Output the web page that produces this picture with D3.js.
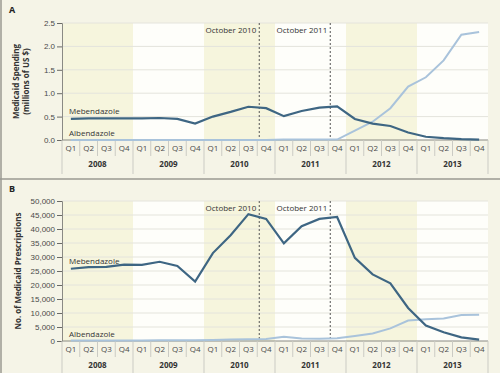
<!DOCTYPE html>
<html>
<head>
<meta charset="utf-8">
<script src="https://cdn.jsdelivr.net/npm/d3@7"></script>
<style>
  body { margin: 0; background: #f5f4e7; }
  svg { display: block; font-family: "Open Sans", sans-serif; }
</style>
</head>
<body>
<svg id="chart" width="500" height="373"></svg>
<script>
const years = ["2008", "2009", "2010", "2011", "2012", "2013"];
const quarters = ["Q1", "Q2", "Q3", "Q4"];
const shadedYears = ["2008", "2010", "2012"];

// Panel A: spending, millions of US $
const spendMeb = [0.45, 0.46, 0.46, 0.46, 0.46, 0.47, 0.45, 0.35,
                  0.50, 0.60, 0.71, 0.68, 0.51, 0.62, 0.69, 0.72,
                  0.45, 0.35, 0.30, 0.16, 0.07, 0.04, 0.02, 0.01];
const spendAlb = [0.0, 0.0, 0.0, 0.0, 0.0, 0.0, 0.0, 0.0,
                  0.0, 0.0, 0.0, 0.0, 0.01, 0.01, 0.01, 0.01,
                  0.20, 0.39, 0.68, 1.14, 1.34, 1.70, 2.25, 2.31];
const spendTicks = [0, 0.5, 1.0, 1.5, 2.0, 2.5];

// Panel B: number of prescriptions
const rxMeb = [25800, 26400, 26500, 27300, 27200, 28300, 26800, 21200,
               31400, 37800, 45300, 43600, 34900, 41000, 43600, 44300,
               29700, 23800, 20600, 11800, 5500, 3100, 1300, 500];
const rxAlb = [200, 200, 200, 200, 200, 300, 300, 300,
               400, 500, 600, 700, 1500, 900, 800, 1000,
               1800, 2700, 4500, 7300, 7800, 8000, 9300, 9400];
const rxTicks = [0, 5000, 10000, 15000, 20000, 25000, 30000, 35000, 40000, 45000, 50000];

const events = [{label: "October 2010", idx: 11}, {label: "October 2011", idx: 15}];

const periods = [];
years.forEach(y => quarters.forEach(q => periods.push(y + q)));

const svg = d3.select("#chart");
const left = 62, right = 488;

const x = d3.scaleBand().domain(periods).range([left, right]);
const xc = p => x(p) + x.bandwidth() / 2;

// panel borders
svg.append("line").attr("x1", 1).attr("x2", 1).attr("y1", 0).attr("y2", 373)
  .attr("stroke", "#9a9a92").attr("stroke-width", 1.5);
svg.append("line").attr("x1", 0).attr("x2", 500).attr("y1", 179).attr("y2", 179)
  .attr("stroke", "#9a9a92").attr("stroke-width", 1.5);

function panel(opts) {
  const g = svg.append("g");
  const y = d3.scaleLinear().domain(opts.domain).range([opts.bottom, opts.top]);

  // plot background
  g.append("rect").attr("x", left).attr("y", opts.top)
    .attr("width", right - left).attr("height", opts.bottom - opts.top)
    .attr("fill", "#fefefa");
  g.selectAll("rect.shade").data(shadedYears).join("rect")
    .attr("class", "shade")
    .attr("x", d => x(d + "Q1"))
    .attr("y", opts.top)
    .attr("width", x.bandwidth() * 4)
    .attr("height", opts.bottom - opts.top)
    .attr("fill", "#f6f5dd");

  // gridlines
  g.selectAll("line.grid").data(opts.ticks.slice(1)).join("line")
    .attr("class", "grid")
    .attr("x1", left).attr("x2", right)
    .attr("y1", d => y(d)).attr("y2", d => y(d))
    .attr("stroke", "#e4e4dc").attr("stroke-width", 1);

  // y axis
  const yAxis = d3.axisLeft(y).tickValues(opts.ticks).tickSize(5).tickPadding(2)
    .tickFormat(opts.format);
  const ya = g.append("g").attr("transform", `translate(${left},0)`).call(yAxis);
  ya.select(".domain").attr("stroke", "#8a8a84");
  ya.selectAll(".tick line").attr("stroke", "#6a6a66");
  ya.selectAll("text").attr("font-size", 8).attr("fill", "#4a4a4a");

  // x axis: quarter cells and year labels
  g.append("line").attr("x1", left).attr("x2", right)
    .attr("y1", opts.bottom).attr("y2", opts.bottom)
    .attr("stroke", "#8a8a84");
  g.selectAll("line.qdiv").data(periods.concat(["end"])).join("line")
    .attr("class", "qdiv")
    .attr("x1", (d, i) => i < periods.length ? x(d) : right)
    .attr("x2", (d, i) => i < periods.length ? x(d) : right)
    .attr("y1", opts.bottom)
    .attr("y2", (d, i) => i % 4 === 0 ? opts.bottom + 34 : opts.bottom + 16)
    .attr("stroke", "#cbcbc4");
  g.selectAll("text.q").data(periods).join("text")
    .attr("class", "q")
    .attr("x", d => xc(d))
    .attr("y", opts.bottom + 11)
    .attr("text-anchor", "middle")
    .attr("font-size", 8).attr("fill", "#4a4a4a")
    .text(d => d.slice(4));
  g.selectAll("text.yr").data(years).join("text")
    .attr("class", "yr")
    .attr("x", d => x(d + "Q1") + x.bandwidth() * 2)
    .attr("y", opts.bottom + 27)
    .attr("text-anchor", "middle")
    .attr("font-size", 8).attr("font-weight", "bold").attr("fill", "#333")
    .text(d => d);

  // event markers
  events.forEach(e => {
    const ex = x(periods[e.idx]) + 2;
    g.append("line").attr("x1", ex).attr("x2", ex)
      .attr("y1", opts.top).attr("y2", opts.bottom)
      .attr("stroke", "#555").attr("stroke-dasharray", "2,2");
    g.append("text").attr("x", ex - 3).attr("y", opts.top + 10)
      .attr("text-anchor", "end").attr("font-size", 8).attr("fill", "#333")
      .text(e.label);
  });

  // lines
  const line = d3.line().x((d, i) => xc(periods[i])).y(d => y(d));
  g.append("path").datum(opts.alb).attr("d", line)
    .attr("fill", "none").attr("stroke", "#a9c3db").attr("stroke-width", 2);
  g.append("path").datum(opts.meb).attr("d", line)
    .attr("fill", "none").attr("stroke", "#3e6683").attr("stroke-width", 2.2);

  g.append("text").attr("x", left + 7).attr("y", y(opts.meb[0]) - 5)
    .attr("font-size", 8).attr("fill", "#333").text("Mebendazole");
  g.append("text").attr("x", left + 7).attr("y", opts.bottom - 4)
    .attr("font-size", 8).attr("fill", "#333").text("Albendazole");

  // panel letter
  svg.append("text").attr("x", 9).attr("y", opts.letterY)
    .attr("font-size", 9).attr("font-weight", "bold").attr("fill", "#222")
    .text(opts.letter);

  // y title
  const t = svg.append("text")
    .attr("transform", `translate(${opts.titleX},${(opts.top + opts.bottom) / 2}) rotate(-90)`)
    .attr("text-anchor", "middle").attr("font-size", 8).attr("font-weight", "bold")
    .attr("fill", "#333");
  opts.title.forEach((s, i) => {
    t.append("tspan").attr("x", 0).attr("dy", i === 0 ? 0 : 10).text(s);
  });
}

panel({
  letter: "A", letterY: 13,
  top: 23, bottom: 140,
  domain: [0, 2.5], ticks: spendTicks, format: d3.format(".1f"),
  meb: spendMeb, alb: spendAlb,
  title: ["Medicaid Spending", "(millions of US $)"], titleX: 19
});

panel({
  letter: "B", letterY: 192,
  top: 201, bottom: 341,
  domain: [0, 50000], ticks: rxTicks, format: d3.format(","),
  meb: rxMeb, alb: rxAlb,
  title: ["No. of Medicaid Prescriptions"], titleX: 21
});
</script>
</body>
</html>
